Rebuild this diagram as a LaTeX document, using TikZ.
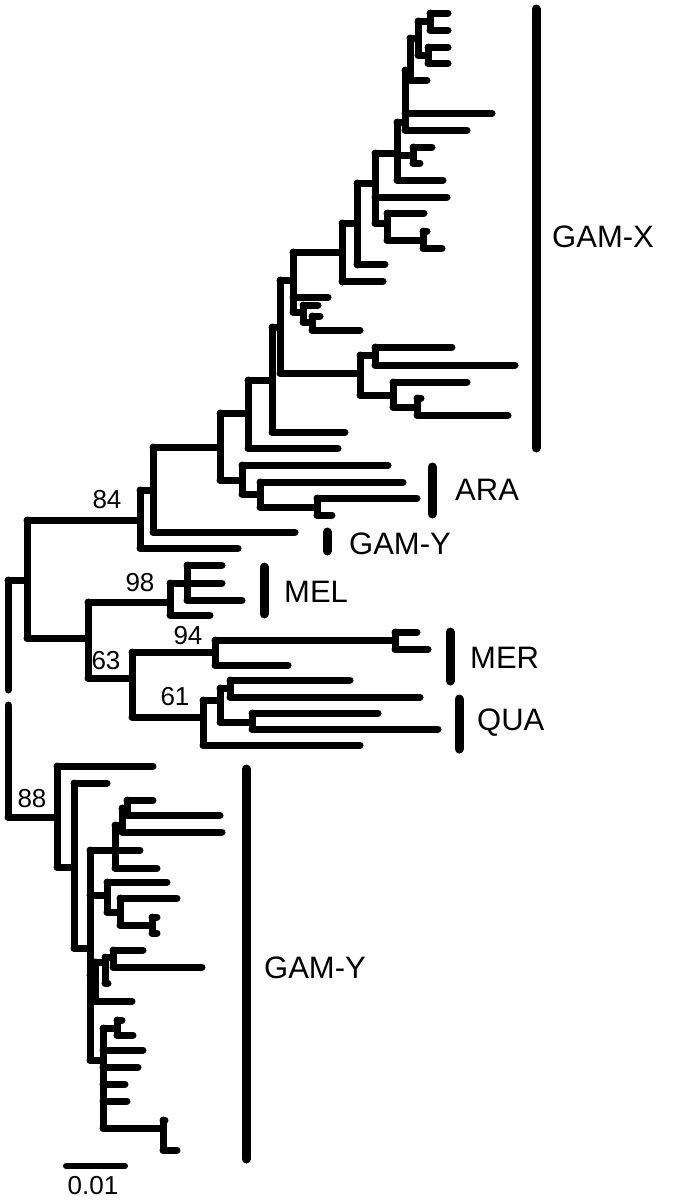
\documentclass[tikz,border=0pt]{standalone}
\usepackage{fontspec}
\setmainfont{Liberation Sans}
\newcommand\Vt[3]{\draw[br] (#1,#2) -- (#1,#3);}
\newcommand\Hz[3]{\draw[br] (#1,#3) -- (#2,#3);}
\begin{document}
\begin{tikzpicture}[x=1pt,y=-1pt,
  br/.style={line width=7pt,line cap=round,line join=round},
  cbar/.style={line width=9pt,line cap=round},
  clab/.style={anchor=west,inner sep=0pt,font=\fontsize{31}{36}\selectfont},
  boot/.style={inner sep=0pt,font=\fontsize{26}{30}\selectfont}]
\useasboundingbox (0,0) rectangle (678,1200);
% root and backbone
\Vt{8}{580}{690}
\Vt{8}{705}{817}
\Hz{8}{27}{580} \Vt{27}{520}{638}
% clade 84
\Hz{27}{140}{520} \Vt{140}{490}{548} \Hz{140}{238}{548}
\Hz{140}{153}{490} \Vt{153}{447}{532} \Hz{153}{295}{532}
\Hz{153}{220}{447} \Vt{220}{413}{480}
% ARA
\Hz{220}{242}{480} \Vt{242}{465}{494} \Hz{242}{388}{465}
\Hz{242}{260}{494} \Vt{260}{482}{507} \Hz{260}{403}{482}
\Hz{260}{317}{507} \Vt{317}{498}{515} \Hz{317}{417}{498} \Hz{317}{332}{515}
% GAM-X
\Hz{220}{248}{413} \Vt{248}{380}{448} \Hz{248}{338}{448}
\Hz{248}{272}{380} \Vt{272}{327}{432} \Hz{272}{345}{432}
\Hz{272}{280}{327} \Vt{280}{280}{373}
\Hz{280}{360}{373} \Vt{360}{355}{395}
\Hz{360}{375}{355} \Vt{375}{347}{365} \Hz{375}{452}{347} \Hz{375}{515}{365}
\Hz{360}{393}{395} \Vt{393}{382}{407} \Hz{393}{467}{382}
\Hz{393}{417}{407} \Vt{417}{398}{415} \Hz{417}{421}{398} \Hz{417}{508}{415}
\Hz{280}{293}{280} \Vt{293}{252}{312}
\Hz{293}{328}{297}
\Hz{293}{303}{312} \Vt{303}{305}{322} \Hz{303}{318}{305}
\Hz{303}{312}{322} \Vt{312}{316}{330} \Hz{312}{320}{316} \Hz{312}{360}{330}
\Hz{293}{342}{252} \Vt{342}{223}{282} \Hz{342}{383}{281}
\Hz{342}{357}{223} \Vt{357}{183}{265} \Hz{357}{385}{264}
\Hz{357}{375}{183} \Vt{375}{153}{223} \Hz{375}{447}{197}
\Hz{375}{387}{223} \Vt{387}{213}{240} \Hz{387}{424}{213}
\Hz{387}{423}{240} \Vt{423}{231}{248} \Hz{423}{427}{231} \Hz{423}{442}{248}
\Hz{375}{397}{153} \Vt{397}{122}{180} \Hz{397}{443}{180}
\Hz{397}{413}{155} \Vt{413}{147}{163} \Hz{413}{432}{147} \Hz{413}{420}{163}
\Hz{397}{405}{122} \Vt{405}{70}{130} \Hz{405}{492}{113} \Hz{405}{467}{130}
\Hz{405}{410}{70} \Vt{410}{38}{80} \Hz{410}{427}{80}
\Hz{410}{418}{38} \Vt{418}{21}{55}
\Hz{418}{430}{21} \Vt{430}{13}{30} \Hz{430}{448}{13} \Hz{430}{448}{30}
\Hz{418}{428}{55} \Vt{428}{47}{63} \Hz{428}{448}{47} \Hz{428}{448}{63}
% MEL, MER, QUA
\Hz{27}{88}{638} \Vt{88}{602}{678}
\Hz{88}{170}{602} \Vt{170}{583}{615} \Hz{170}{210}{615}
\Hz{170}{187}{583} \Vt{187}{565}{600} \Hz{187}{222}{565} \Hz{187}{222}{583} \Hz{187}{242}{600}
\Hz{88}{132}{678} \Vt{132}{652}{717}
\Hz{132}{215}{652} \Vt{215}{640}{665} \Hz{215}{288}{665}
\Hz{215}{395}{640} \Vt{395}{632}{649} \Hz{395}{417}{632} \Hz{395}{428}{649}
\Hz{132}{203}{717} \Vt{203}{700}{745} \Hz{203}{360}{745}
\Hz{203}{220}{700} \Vt{220}{688}{722}
\Hz{220}{230}{688} \Vt{230}{680}{697} \Hz{230}{350}{680} \Hz{230}{420}{697}
\Hz{220}{252}{722} \Vt{252}{713}{729} \Hz{252}{378}{713} \Hz{252}{438}{729}
% GAM-Y (88)
\Hz{8}{57}{817} \Vt{57}{766}{867} \Hz{57}{153}{766}
\Hz{57}{74}{867} \Vt{74}{783}{948} \Hz{74}{107}{783}
\Hz{74}{90}{948} \Vt{90}{850}{1060}
\Hz{90}{140}{850} \Vt{115}{825}{868} \Hz{115}{157}{868}
\Hz{115}{122}{825} \Vt{122}{808}{832} \Hz{122}{222}{832}
\Hz{122}{127}{808} \Vt{127}{800}{815} \Hz{127}{153}{800} \Hz{127}{220}{815}
\Hz{90}{107}{895} \Vt{107}{882}{912} \Hz{107}{167}{882}
\Hz{107}{120}{912} \Vt{120}{898}{925} \Hz{120}{177}{898}
\Hz{120}{152}{925} \Vt{152}{917}{933} \Hz{152}{157}{917} \Hz{152}{157}{933}
\Hz{90}{95}{975} \Vt{95}{962}{1001} \Hz{95}{132}{1001}
\Hz{95}{105}{962} \Vt{105}{957}{983} \Hz{105}{108}{983}
\Hz{105}{113}{957} \Vt{113}{950}{967} \Hz{113}{143}{950} \Hz{113}{202}{967}
\Hz{90}{103}{1060} \Vt{103}{1028}{1128}
\Hz{103}{117}{1028} \Vt{117}{1020}{1035} \Hz{117}{122}{1020} \Hz{117}{133}{1035}
\Hz{103}{143}{1050} \Hz{103}{138}{1067} \Hz{103}{125}{1084} \Hz{103}{127}{1101}
\Hz{103}{163}{1128} \Vt{163}{1120}{1150} \Hz{163}{165}{1120} \Hz{163}{177}{1150}
% clade bars
\draw[cbar] (536,9) -- (536,448);
\draw[cbar] (432,467) -- (432,514);
\draw[cbar] (327,532) -- (327,551);
\draw[cbar] (264,567) -- (264,614);
\draw[cbar] (450,632) -- (450,681);
\draw[cbar] (459,699) -- (459,749);
\draw[cbar] (246,769) -- (246,1159);
% clade labels
\node[clab] (lgx) at (552,237) {GAM-X};
\node[clab] (lara) at (455,490) {ARA};
\node[clab] (lgy1) at (349,544) {GAM-Y};
\node[clab] (lmel) at (284,592) {MEL};
\node[clab] (lmer) at (470,658) {MER};
\node[clab] (lqua) at (477,723) {QUA};
\node[clab] (lgy2) at (264,968) {GAM-Y};
% bootstrap values
\node[boot] (b84) at (107,500) {84};
\node[boot] (b98) at (140,583) {98};
\node[boot] (b94) at (188,636) {94};
\node[boot] (b63) at (106,661) {63};
\node[boot] (b61) at (175,697) {61};
\node[boot] (b88) at (32,799) {88};
% scale bar
\draw[line width=6pt,line cap=round] (66,1166) -- (125,1166);
\node[boot] (sc) at (93,1186) {0.01};
\end{tikzpicture}
\end{document}
